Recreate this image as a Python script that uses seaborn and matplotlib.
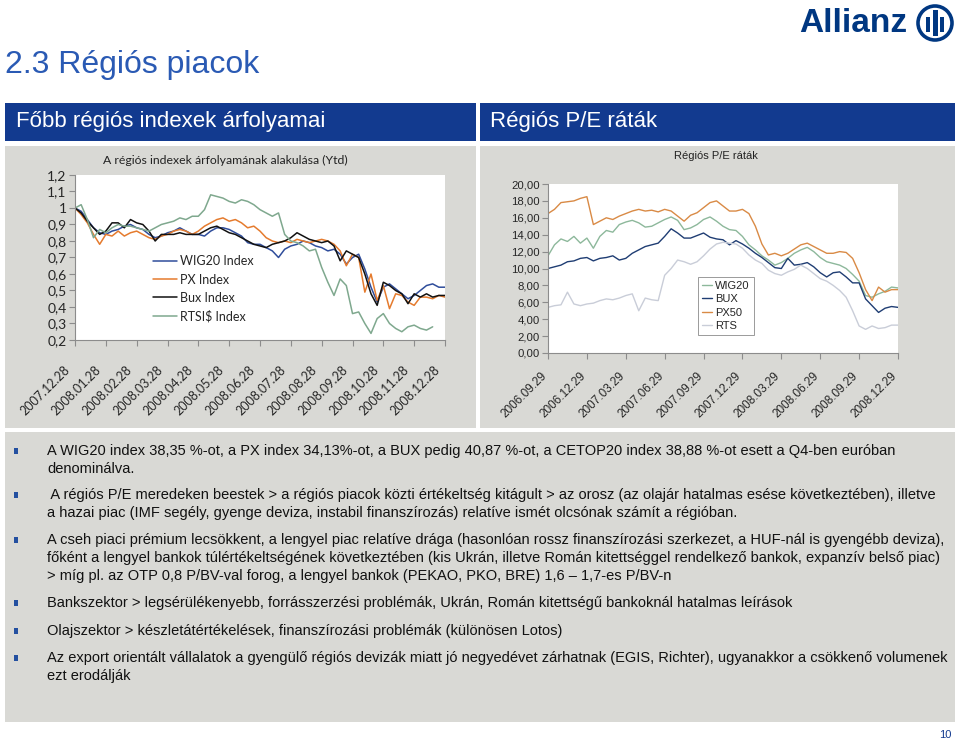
import numpy as np
import pandas as pd
import matplotlib
matplotlib.use("Agg")
import matplotlib.pyplot as plt
import matplotlib.transforms as mtransforms
import seaborn as sns
from matplotlib.patches import Rectangle, Circle

# ── Data: YTD index performance (left chart) ─────────────────────────────────
ytd_dates = ["2007.12.28", "2008.01.28", "2008.02.28", "2008.03.28", "2008.04.28",
             "2008.05.28", "2008.06.28", "2008.07.28", "2008.08.28", "2008.09.28",
             "2008.10.28", "2008.11.28", "2008.12.28"]
ytd_month = np.round(np.arange(61) * 0.2, 1)      # months since 2007.12.28

wig20_ytd = [1.00, 0.98, 0.93, 0.88, 0.85, 0.84, 0.86, 0.87, 0.89, 0.90,
             0.88, 0.87, 0.84, 0.82, 0.83, 0.85, 0.86, 0.88, 0.86, 0.84,
             0.84, 0.83, 0.86, 0.88, 0.88, 0.87, 0.85, 0.83, 0.79, 0.78,
             0.78, 0.76, 0.74, 0.70, 0.75, 0.77, 0.78, 0.80, 0.79, 0.77,
             0.76, 0.74, 0.75, 0.72, 0.66, 0.70, 0.72, 0.63, 0.52, 0.43,
             0.52, 0.54, 0.51, 0.48, 0.45, 0.47, 0.50, 0.53, 0.54, 0.52, 0.52]
px_ytd = [1.00, 0.96, 0.91, 0.84, 0.78, 0.84, 0.83, 0.86, 0.83, 0.85,
          0.86, 0.84, 0.82, 0.81, 0.83, 0.84, 0.86, 0.87, 0.86, 0.84,
          0.86, 0.89, 0.91, 0.93, 0.94, 0.92, 0.93, 0.91, 0.88, 0.89,
          0.86, 0.82, 0.80, 0.79, 0.80, 0.79, 0.81, 0.80, 0.79, 0.80,
          0.81, 0.80, 0.78, 0.74, 0.65, 0.72, 0.70, 0.49, 0.60, 0.44,
          0.53, 0.39, 0.48, 0.47, 0.43, 0.41, 0.46, 0.46, 0.45, 0.47, 0.46]
bux_ytd = [1.00, 0.97, 0.92, 0.88, 0.84, 0.86, 0.91, 0.91, 0.88, 0.93,
           0.91, 0.90, 0.86, 0.80, 0.84, 0.84, 0.84, 0.85, 0.84, 0.84,
           0.84, 0.86, 0.88, 0.89, 0.87, 0.85, 0.84, 0.82, 0.80, 0.78,
           0.77, 0.76, 0.78, 0.79, 0.80, 0.82, 0.85, 0.83, 0.81, 0.80,
           0.79, 0.80, 0.77, 0.68, 0.74, 0.72, 0.70, 0.60, 0.48, 0.41,
           0.55, 0.53, 0.50, 0.48, 0.42, 0.48, 0.46, 0.48, 0.46, 0.47, 0.47]
rtsi_ytd = [1.00, 1.02, 0.93, 0.82, 0.87, 0.85, 0.88, 0.90, 0.89, 0.89,
            0.88, 0.87, 0.86, 0.88, 0.90, 0.91, 0.92, 0.94, 0.93, 0.95,
            0.95, 0.99, 1.08, 1.07, 1.06, 1.04, 1.03, 1.05, 1.04, 1.02,
            0.99, 0.97, 0.95, 0.97, 0.84, 0.80, 0.79, 0.77, 0.74, 0.75,
            0.64, 0.55, 0.47, 0.57, 0.53, 0.36, 0.37, 0.30, 0.24, 0.33,
            0.36, 0.30, 0.27, 0.25, 0.28, 0.29, 0.27, 0.26, 0.28, np.nan, np.nan]

ytd_yticks = [0.2, 0.3, 0.4, 0.5, 0.6, 0.7, 0.8, 0.9, 1.0, 1.1, 1.2]
ytd_ylabels = ["0,2", "0,3", "0,4", "0,5", "0,6", "0,7", "0,8", "0,9", "1", "1,1", "1,2"]

# ── Data: regional P/E ratios (right chart) ──────────────────────────────────
pe_dates = ["2006.09.29", "2006.12.29", "2007.03.29", "2007.06.29", "2007.09.29",
            "2007.12.29", "2008.03.29", "2008.06.29", "2008.09.29", "2008.12.29"]
pe_month = np.arange(55) * 0.5                     # months since 2006.09.29

pe_wig20 = [11.5, 12.8, 13.5, 13.2, 13.8, 13.0, 13.6, 12.4, 13.8, 14.5,
            14.3, 15.2, 15.5, 15.7, 15.4, 14.9, 15.0, 15.4, 15.8, 16.1,
            15.7, 14.6, 14.8, 15.2, 15.8, 16.1, 15.6, 15.0, 14.6, 14.5,
            13.8, 12.8, 12.2, 11.5, 11.0, 10.4, 10.7, 11.2, 11.8, 12.2,
            12.5, 12.0, 11.3, 10.8, 10.6, 10.4, 10.0, 9.3, 8.5, 6.8,
            6.6, 7.0, 7.3, 7.8, 7.7]
pe_bux = [10.0, 10.2, 10.4, 10.8, 10.9, 11.2, 11.3, 10.9, 11.2, 11.3,
          11.5, 11.0, 11.2, 11.8, 12.2, 12.6, 12.8, 13.0, 13.8, 14.7,
          14.2, 13.6, 13.6, 13.9, 14.2, 13.7, 13.5, 13.4, 12.8, 13.3,
          12.9, 12.4, 11.8, 11.3, 10.7, 10.1, 10.0, 11.2, 10.4, 10.5,
          10.7, 10.2, 9.5, 9.0, 9.5, 9.6, 9.0, 8.3, 8.3, 6.4,
          5.6, 4.8, 5.3, 5.5, 5.4]
pe_px50 = [16.5, 17.0, 17.8, 17.9, 18.0, 18.3, 18.5, 15.2, 15.6, 16.0,
           15.8, 16.2, 16.5, 16.8, 17.0, 16.8, 16.9, 16.7, 17.0, 16.8,
           16.2, 15.6, 16.3, 16.6, 17.2, 17.8, 18.0, 17.4, 16.8, 16.8,
           17.0, 16.5, 15.0, 12.9, 11.6, 11.8, 11.5, 11.8, 12.3, 12.8,
           13.0, 12.6, 12.2, 11.8, 11.8, 12.0, 11.9, 11.2, 9.5, 7.5,
           6.2, 7.8, 7.2, 7.5, 7.5]
pe_rts = [5.4, 5.6, 5.7, 7.2, 5.8, 5.6, 5.8, 5.9, 6.2, 6.4,
          6.3, 6.5, 6.8, 7.0, 5.0, 6.5, 6.3, 6.2, 9.2, 10.0,
          11.0, 10.8, 10.5, 10.8, 11.5, 12.3, 12.9, 13.1, 13.0, 12.9,
          12.4, 11.6, 11.0, 10.6, 9.8, 9.4, 9.2, 9.6, 9.9, 10.4,
          10.0, 9.4, 8.8, 8.5, 8.0, 7.4, 6.6, 5.0, 3.2, 2.8,
          3.2, 2.9, 3.0, 3.3, 3.3]

pe_yticks = [0, 2, 4, 6, 8, 10, 12, 14, 16, 18, 20]
pe_ylabels = ["0,00", "2,00", "4,00", "6,00", "8,00", "10,00",
              "12,00", "14,00", "16,00", "18,00", "20,00"]

# ── Slide text ────────────────────────────────────────────────────────────────
bullets = [
    ["A WIG20 index 38,35 %-ot, a PX index 34,13%-ot, a BUX pedig 40,87 %-ot, a CETOP20 index 38,88 %-ot esett a Q4-ben euróban",
     "denominálva."],
    [" A régiós P/E meredeken beestek > a régiós piacok közti értékeltség kitágult > az orosz (az olajár hatalmas esése következtében), illetve",
     "a hazai piac (IMF segély, gyenge deviza, instabil finanszírozás) relatíve ismét olcsónak számít a régióban."],
    ["A cseh piaci prémium lecsökkent, a lengyel piac relatíve drága (hasonlóan rossz finanszírozási szerkezet, a HUF-nál is gyengébb deviza),",
     "főként a lengyel bankok túlértékeltségének következtében (kis Ukrán, illetve Román kitettséggel rendelkező bankok, expanzív belső piac)",
     "> míg pl. az OTP 0,8 P/BV-val forog, a lengyel bankok (PEKAO, PKO, BRE) 1,6 – 1,7-es P/BV-n"],
    ["Bankszektor > legsérülékenyebb, forrásszerzési problémák, Ukrán, Román kitettségű bankoknál hatalmas leírások"],
    ["Olajszektor > készletátértékelések, finanszírozási problémák (különösen Lotos)"],
    ["Az export orientált vállalatok a gyengülő régiós devizák miatt jó negyedévet zárhatnak (EGIS, Richter), ugyanakkor a csökkenő volumenek",
     "ezt erodálják"],
]
bullet_top = [451, 495, 540, 603, 631, 658]

# ── Style ─────────────────────────────────────────────────────────────────────
sns.set_theme(style="white")
plt.rcParams["font.family"] = ["Liberation Sans", "DejaVu Sans"]
SANS = ["Liberation Sans", "DejaVu Sans"]
MYRIAD = ["Lato", "DejaVu Sans"]

W, H = 960, 740
NAVY = "#123a8f"
PANEL = "#d9d9d5"
TITLE_BLUE = "#2a5ab4"
LOGO = "#003781"
AXIS_GREY = "#8c8c8c"

ytd_colors = {"WIG20 Index": "#2f4d9b", "PX Index": "#e57b2e",
              "Bux Index": "#111111", "RTSI$ Index": "#7fa88e"}
pe_colors = {"WIG20": "#8db89b", "BUX": "#1f3d73",
             "PX50": "#d98a45", "RTS": "#c9cdd8"}


def px_rect(x0, y0, x1, y1):
    return [x0 / W, 1 - y1 / H, (x1 - x0) / W, (y1 - y0) / H]


fig = plt.figure(figsize=(W / 100, H / 100), dpi=100, facecolor="white")

# ── Slide background / frame ─────────────────────────────────────────────────
bg = fig.add_axes([0, 0, 1, 1], zorder=0)
bg.set_xlim(0, W)
bg.set_ylim(H, 0)
bg.axis("off")

for x0, w in [(5, 471), (480, 475)]:
    bg.add_patch(Rectangle((x0, 103), w, 38, color=NAVY, lw=0))
    bg.add_patch(Rectangle((x0, 146), w, 282, color=PANEL, lw=0))
bg.add_patch(Rectangle((5, 432), 950, 290, color=PANEL, lw=0))

bg.text(5, 65, "2.3 Régiós piacok", fontsize=23, color=TITLE_BLUE,
        va="center", ha="left", family=SANS)
bg.text(16, 122, "Főbb régiós indexek árfolyamai", fontsize=16, color="white",
        va="center", ha="left", family=SANS)
bg.text(490, 122, "Régiós P/E ráták", fontsize=16, color="white",
        va="center", ha="left", family=SANS)

# Allianz logo
bg.text(853, 24, "Allianz", fontsize=24, fontweight="bold", color=LOGO,
        va="center", ha="center", family=SANS)
bg.add_patch(Circle((935, 23), 17, fill=False, ec=LOGO, lw=2.6))
bg.add_patch(Rectangle((926, 17), 4, 15, color=LOGO, lw=0))
bg.add_patch(Rectangle((932.5, 10), 5, 26, color=LOGO, lw=0))
bg.add_patch(Rectangle((940, 17), 4, 15, color=LOGO, lw=0))

# chart titles
bg.text(225, 160, "A régiós indexek árfolyamának alakulása (Ytd)", fontsize=8.8,
        color="#222222", va="center", ha="center", family=MYRIAD)
bg.text(716, 156, "Régiós P/E ráták", fontsize=8, color="#222222",
        va="center", ha="center", family=SANS)

# bullets
for lines, y in zip(bullets, bullet_top):
    bg.add_patch(Rectangle((14, y - 3), 3.5, 5.5, color="#2450a0", lw=0))
    for i, line in enumerate(lines):
        bg.text(47, y + 18 * i, line, fontsize=10.5, color="#111111",
                va="center", ha="left", family=SANS)

bg.text(945, 735, "10", fontsize=8, color=NAVY, va="center", ha="center", family=SANS)


def style_axis(ax, label_font, xsize, ysize, xpad, xshift):
    for side in ["top", "right"]:
        ax.spines[side].set_visible(False)
    for side in ["left", "bottom"]:
        ax.spines[side].set_color(AXIS_GREY)
        ax.spines[side].set_linewidth(0.8)
    ax.set_facecolor("white")
    ax.tick_params(axis="both", bottom=True, left=True, direction="out",
                   length=4, width=0.8, color=AXIS_GREY)
    ax.tick_params(axis="x", pad=xpad)
    ax.tick_params(axis="y", pad=2)
    for lab in ax.get_xticklabels():
        lab.set_fontfamily(label_font)
        lab.set_fontsize(xsize)
        lab.set_transform(lab.get_transform() +
                          mtransforms.ScaledTranslation(xshift / 100, 0, fig.dpi_scale_trans))
    for lab in ax.get_yticklabels():
        lab.set_fontfamily(label_font)
        lab.set_fontsize(ysize)
    ax.set_xlabel("")
    ax.set_ylabel("")


# ── Left chart: YTD index performance ────────────────────────────────────────
ytd = pd.DataFrame({"month": ytd_month, "WIG20 Index": wig20_ytd, "PX Index": px_ytd,
                    "Bux Index": bux_ytd, "RTSI$ Index": rtsi_ytd})
ytd_long = ytd.melt("month", var_name="index", value_name="value")

ax1 = fig.add_axes(px_rect(75, 175, 445, 340), zorder=1)
sns.lineplot(data=ytd_long, x="month", y="value", hue="index",
             hue_order=list(ytd_colors), palette=ytd_colors,
             linewidth=1.1, ax=ax1)
ax1.set_xlim(0, 12)
ax1.set_ylim(0.2, 1.2)
ax1.set_yticks(ytd_yticks, ytd_ylabels)
ax1.set_xticks(range(len(ytd_dates)), ytd_dates, rotation=45, ha="right",
               va="center", rotation_mode="anchor")
style_axis(ax1, MYRIAD, 9, 10, 16, -7)
handles, labels = ax1.get_legend_handles_labels()
ax1.legend(handles, labels, loc="center left",
           bbox_to_anchor=((153 - 75) / 370, 1 - (289 - 175) / 165),
           frameon=False, prop={"family": MYRIAD, "size": 9},
           handlelength=1.9, handletextpad=0.3, labelspacing=0.5,
           borderpad=0, borderaxespad=0)

# ── Right chart: regional P/E ratios ─────────────────────────────────────────
pe = pd.DataFrame({"month": pe_month, "WIG20": pe_wig20, "BUX": pe_bux,
                   "PX50": pe_px50, "RTS": pe_rts})
pe_long = pe.melt("month", var_name="index", value_name="value")

ax2 = fig.add_axes(px_rect(548, 184, 898, 353), zorder=1)
sns.lineplot(data=pe_long, x="month", y="value", hue="index",
             hue_order=list(pe_colors), palette=pe_colors,
             linewidth=1.0, ax=ax2)
ax2.set_xlim(0, 27)
ax2.set_ylim(0, 20)
ax2.set_yticks(pe_yticks, pe_ylabels)
ax2.set_xticks(np.arange(len(pe_dates)) * 3, pe_dates, rotation=45, ha="right",
               va="center", rotation_mode="anchor")
style_axis(ax2, SANS, 8.5, 8.2, 11, -3)
handles, labels = ax2.get_legend_handles_labels()
leg = ax2.legend(handles, labels, loc="upper left",
                 bbox_to_anchor=((698 - 548) / 350, 1 - (277 - 184) / 169),
                 frameon=True, fancybox=False, framealpha=1, edgecolor="#9a9a9a",
                 prop={"family": SANS, "size": 8}, handlelength=0.95,
                 handletextpad=0.25, labelspacing=0.3, borderpad=0.35,
                 borderaxespad=0)
leg.get_frame().set_linewidth(0.7)

fig.savefig("out.png", dpi=100, facecolor="white")
